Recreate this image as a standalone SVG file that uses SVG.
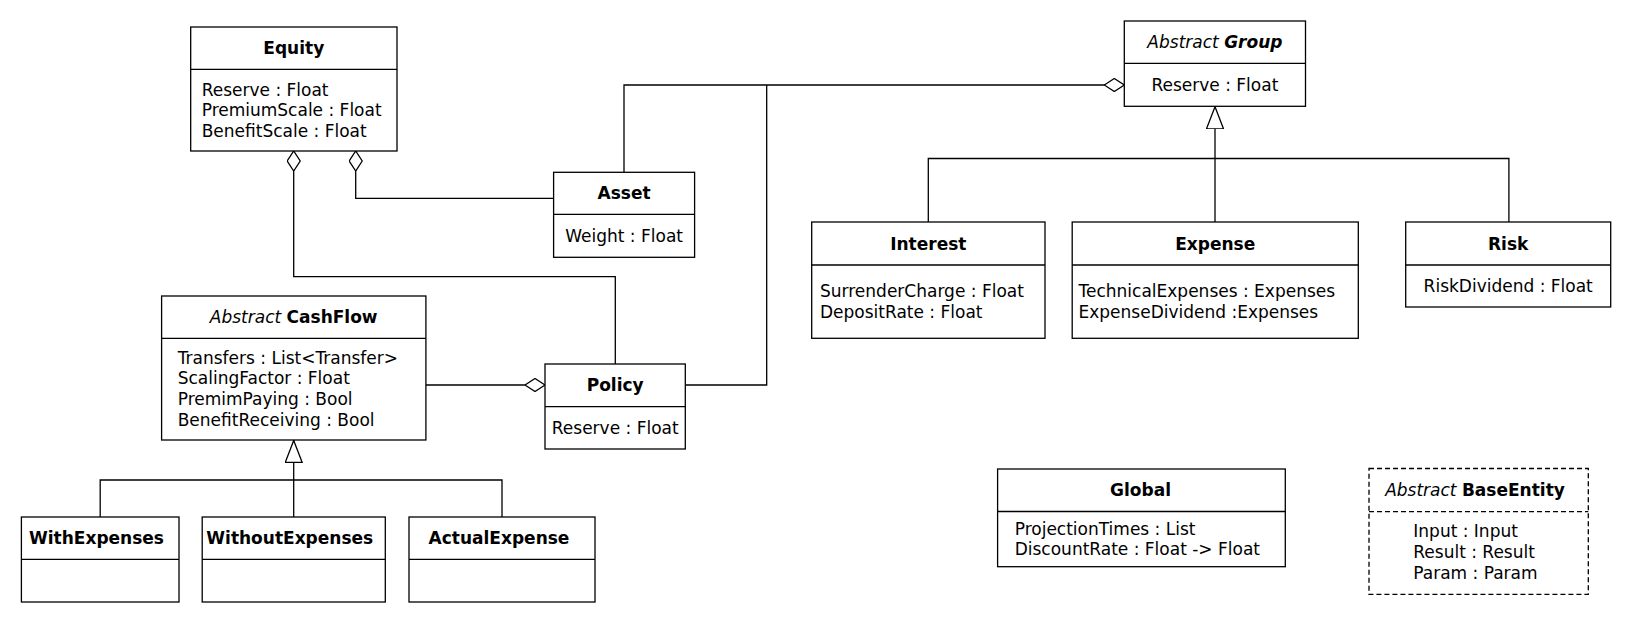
<svg xmlns="http://www.w3.org/2000/svg" width="1632" height="623" viewBox="0 0 1632 623">
<style>
  .box { fill: #ffffff; stroke: #000000; stroke-width: 1.3; }
  .dash { fill: #ffffff; stroke: #000000; stroke-width: 1.3; stroke-dasharray: 5 3; }
  .div { stroke: #000000; stroke-width: 1.3; fill: none; }
  .divd { stroke: #000000; stroke-width: 1.3; fill: none; stroke-dasharray: 5 3; }
  .line { stroke: #000000; stroke-width: 1.3; fill: none; }
  text { font-family: "DejaVu Sans", "Liberation Sans", sans-serif; font-size: 17px; fill: #000000; }
  .t { font-weight: bold; text-anchor: middle; }
  .c { text-anchor: middle; }
  .it { font-style: italic; font-weight: normal; }
  .b { font-weight: bold; }
</style>
<defs>
  <marker id="diamond" viewBox="0 0 20 14" refX="0" refY="7" markerWidth="20" markerHeight="14" markerUnits="userSpaceOnUse" orient="auto">
    <path d="M0,7 L10,0.5 L20,7 L10,13.5 Z" fill="#ffffff" stroke="#000000" stroke-width="1.3"/>
  </marker>
  <marker id="tri" viewBox="0 0 23 18" refX="0" refY="9" markerWidth="23" markerHeight="18" markerUnits="userSpaceOnUse" orient="auto">
    <path d="M0.5,9 L22.5,0.5 L22.5,17.5 Z" fill="#ffffff" stroke="#000000" stroke-width="1.3"/>
  </marker>
</defs>

<g id="connectors">
  <path class="line" d="M293.7,151 V276.7 H615.3 V364" marker-start="url(#diamond)"/>
  <path class="line" d="M355.7,151 V198.3 H553.6" marker-start="url(#diamond)"/>
  <path class="line" d="M1124.3,85 H624 V172.3" marker-start="url(#diamond)"/>
  <path class="line" d="M685.3,385 H766.7 V85"/>
  <path class="line" d="M545,385 H425.9" marker-start="url(#diamond)"/>
  <path class="line" d="M293.7,440 V517" marker-start="url(#tri)"/>
  <path class="line" d="M100.2,517 V480 H502 V517"/>
  <path class="line" d="M1215,106.3 V222" marker-start="url(#tri)"/>
  <path class="line" d="M928.3,222 V158.5 H1508.9 V222"/>
</g>

<g id="equity">
  <rect class="box" x="190.7" y="27" width="206.3" height="124"/>
  <line class="div" x1="190.7" y1="69.3" x2="397" y2="69.3"/>
  <text class="t" x="293.8" y="54.3">Equity</text>
  <text x="201.7" y="95.5">Reserve : Float</text>
  <text x="201.7" y="116.2">PremiumScale : Float</text>
  <text x="201.7" y="136.9">BenefitScale : Float</text>
</g>

<g id="asset">
  <rect class="box" x="553.6" y="172.3" width="141" height="85"/>
  <line class="div" x1="553.6" y1="214.3" x2="694.6" y2="214.3"/>
  <text class="t" x="624.1" y="199.3">Asset</text>
  <text class="c" x="624.1" y="241.8">Weight : Float</text>
</g>

<g id="group">
  <rect class="box" x="1124.3" y="21" width="181.2" height="85.3"/>
  <line class="div" x1="1124.3" y1="63.3" x2="1305.5" y2="63.3"/>
  <text class="c" x="1214.9" y="48"><tspan class="it">Abstract</tspan> <tspan font-style="italic" font-weight="bold">Group</tspan></text>
  <text class="c" x="1214.9" y="90.7">Reserve : Float</text>
</g>

<g id="interest">
  <rect class="box" x="811.7" y="222" width="233.3" height="116.3"/>
  <line class="div" x1="811.7" y1="265" x2="1045" y2="265"/>
  <text class="t" x="928.3" y="249.5">Interest</text>
  <text x="820" y="297.2">SurrenderCharge : Float</text>
  <text x="820" y="317.9">DepositRate : Float</text>
</g>

<g id="expense">
  <rect class="box" x="1072.2" y="222" width="286.1" height="116.3"/>
  <line class="div" x1="1072.2" y1="265" x2="1358.3" y2="265"/>
  <text class="t" x="1215.2" y="249.5">Expense</text>
  <text x="1078.5" y="297.2">TechnicalExpenses : Expenses</text>
  <text x="1078.5" y="317.9">ExpenseDividend :Expenses</text>
</g>

<g id="risk">
  <rect class="box" x="1405.7" y="222" width="205" height="85"/>
  <line class="div" x1="1405.7" y1="265" x2="1610.7" y2="265"/>
  <text class="t" x="1508.2" y="249.5">Risk</text>
  <text class="c" x="1508.2" y="291.7">RiskDividend : Float</text>
</g>

<g id="cashflow">
  <rect class="box" x="161.6" y="296" width="264.3" height="144"/>
  <line class="div" x1="161.6" y1="338.3" x2="425.9" y2="338.3"/>
  <text class="c" x="293.7" y="323"><tspan class="it">Abstract</tspan> <tspan class="b">CashFlow</tspan></text>
  <text x="177.7" y="363.5">Transfers : List&lt;Transfer&gt;</text>
  <text x="177.7" y="384.2">ScalingFactor : Float</text>
  <text x="177.7" y="404.9">PremimPaying : Bool</text>
  <text x="177.7" y="425.6">BenefitReceiving : Bool</text>
</g>

<g id="policy">
  <rect class="box" x="545" y="364" width="140.3" height="85"/>
  <line class="div" x1="545" y1="406.7" x2="685.3" y2="406.7"/>
  <text class="t" x="615.2" y="391.3">Policy</text>
  <text class="c" x="615.2" y="433.8">Reserve : Float</text>
</g>

<g id="withexpenses">
  <rect class="box" x="21.4" y="517" width="157.6" height="85"/>
  <line class="div" x1="21.4" y1="559.3" x2="179" y2="559.3"/>
  <text class="b" x="29" y="544.2">WithExpenses</text>
</g>

<g id="withoutexpenses">
  <rect class="box" x="202.2" y="517" width="183.1" height="85"/>
  <line class="div" x1="202.2" y1="559.3" x2="385.3" y2="559.3"/>
  <text class="b" x="206.3" y="544.2">WithoutExpenses</text>
</g>

<g id="actualexpense">
  <rect class="box" x="409" y="517" width="186" height="85"/>
  <line class="div" x1="409" y1="559.3" x2="595" y2="559.3"/>
  <text class="b" x="428.6" y="544.2">ActualExpense</text>
</g>

<g id="global">
  <rect class="box" x="997.6" y="469" width="287.7" height="97.7"/>
  <line class="div" x1="997.6" y1="511.5" x2="1285.3" y2="511.5"/>
  <text class="t" x="1140.5" y="496.2">Global</text>
  <text x="1014.7" y="534.6">ProjectionTimes : List</text>
  <text x="1014.7" y="555.3">DiscountRate : Float -&gt; Float</text>
</g>

<g id="baseentity">
  <rect class="dash" x="1369" y="468.5" width="219.3" height="125.8"/>
  <line class="divd" x1="1369" y1="511.7" x2="1588.3" y2="511.7"/>
  <text class="c" x="1475" y="496.2"><tspan class="it">Abstract</tspan> <tspan class="b">BaseEntity</tspan></text>
  <text x="1413.3" y="537.3">Input : Input</text>
  <text x="1413.3" y="558">Result : Result</text>
  <text x="1413.3" y="578.7">Param : Param</text>
</g>
</svg>
